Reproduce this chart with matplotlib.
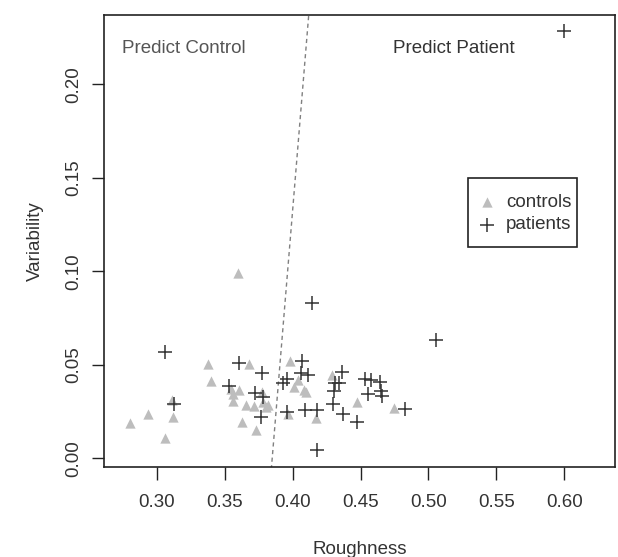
import numpy as np
import matplotlib
matplotlib.use("Agg")
import matplotlib.pyplot as plt
from matplotlib.patches import Rectangle

plt.rcParams['font.family'] = ['Liberation Sans', 'DejaVu Sans']

# controls (grey triangles)
ctrl_rough = [0.2800, 0.2935, 0.3062, 0.3113, 0.3119, 0.3376, 0.3403, 0.3597,
              0.3677, 0.3545, 0.3562, 0.3565, 0.3603, 0.3628, 0.3660, 0.3715,
              0.3730, 0.3778, 0.3782, 0.3805, 0.3820, 0.3982, 0.4010, 0.3966,
              0.4042, 0.4085, 0.4098, 0.4289, 0.4172, 0.4475, 0.4745]
ctrl_var = [0.0188, 0.0235, 0.0110, 0.0310, 0.0222, 0.0504, 0.0411, 0.0992,
            0.0503, 0.0370, 0.0345, 0.0308, 0.0365, 0.0195, 0.0285, 0.0280,
            0.0150, 0.0355, 0.0300, 0.0275, 0.0285, 0.0518, 0.0383, 0.0237,
            0.0420, 0.0365, 0.0352, 0.0443, 0.0215, 0.0303, 0.0270]

# patients (crosses)
pat_rough = [0.3063, 0.3125, 0.3535, 0.3603, 0.3778, 0.3725, 0.3780, 0.3765,
             0.3930, 0.3960, 0.4068, 0.4065, 0.4115, 0.3962, 0.4088, 0.4178,
             0.4146, 0.4183, 0.4295, 0.4310, 0.4345, 0.4305, 0.4365, 0.4372,
             0.4477, 0.4533, 0.4580, 0.4643, 0.4557, 0.4650, 0.4655, 0.4830,
             0.5053, 0.5998]
pat_var = [0.0569, 0.0290, 0.0385, 0.0511, 0.0456, 0.0350, 0.0330, 0.0222,
           0.0400, 0.0422, 0.0518, 0.0455, 0.0443, 0.0245, 0.0260, 0.0260,
           0.0830, 0.0044, 0.0290, 0.0400, 0.0402, 0.0358, 0.0460, 0.0237,
           0.0192, 0.0426, 0.0420, 0.0410, 0.0346, 0.0362, 0.0335, 0.0265,
           0.0634, 0.2285]

# decision boundary: roughness = b0 + b1 * variability
b0, b1 = 0.3850, 0.1134

FS = 13.5

fig = plt.figure(figsize=(6.18, 5.57), dpi=100)
ax = fig.add_axes([104 / 618, (557 - 466.7) / 557, (615 - 104) / 618, (466.7 - 15) / 557])

ax.scatter(ctrl_rough, ctrl_var, marker='^', s=55, color='#bdbdbd', linewidths=0,
           label='controls', zorder=2)
ax.scatter(pat_rough, pat_var, marker='+', s=110, color='#333333', linewidths=1.1,
           label='patients', zorder=3)

yy = np.array([-0.01, 0.25])
ax.plot(b0 + b1 * yy, yy, color='#808080', lw=1.0, linestyle=(0, (3, 2.5)), zorder=1)

ax.text(0.320, 0.2193, 'Predict Control', ha='center', va='center', fontsize=FS, color='#555555')
ax.text(0.519, 0.2193, 'Predict Patient', ha='center', va='center', fontsize=FS, color='#333333')

ax.set_xlim(0.2612, 0.6373)
ax.set_ylim(-0.0045, 0.237)
ax.set_xticks([0.30, 0.35, 0.40, 0.45, 0.50, 0.55, 0.60])
ax.set_xticklabels(['0.30', '0.35', '0.40', '0.45', '0.50', '0.55', '0.60'])
ax.set_yticks([0.00, 0.05, 0.10, 0.15, 0.20])
ax.set_yticklabels(['0.00', '0.05', '0.10', '0.15', '0.20'], rotation=90, va='center')
ax.tick_params(axis='both', direction='out', length=9, width=1.0, labelsize=FS,
               colors='#222222', labelcolor='#333333')
ax.tick_params(axis='x', pad=11)
ax.tick_params(axis='y', pad=7)
for sp in ax.spines.values():
    sp.set_linewidth(1.2)
    sp.set_color('#222222')

ax.set_xlabel('Roughness', fontsize=FS, color='#333333', labelpad=21)
ax.set_ylabel('Variability', fontsize=FS, color='#333333', labelpad=15)

# legend box drawn by hand so its padding matches the original
ax.add_patch(Rectangle((0.7129, 0.4857), 0.9262 - 0.7129, 0.6385 - 0.4857,
                       transform=ax.transAxes, fill=True, facecolor='white',
                       edgecolor='#222222', linewidth=1.2, zorder=4))
leg = ax.legend(loc='center left', bbox_to_anchor=((479.8 - 104) / 511, (466.7 - 213.5) / 451.7),
                fontsize=FS, frameon=False, handlelength=0.8, handletextpad=0.6,
                borderpad=0, labelspacing=0.3, scatterpoints=1, borderaxespad=0)
leg.set_zorder(5)
for t in leg.get_texts():
    t.set_color('#333333')

fig.savefig('out.png', dpi=100)
